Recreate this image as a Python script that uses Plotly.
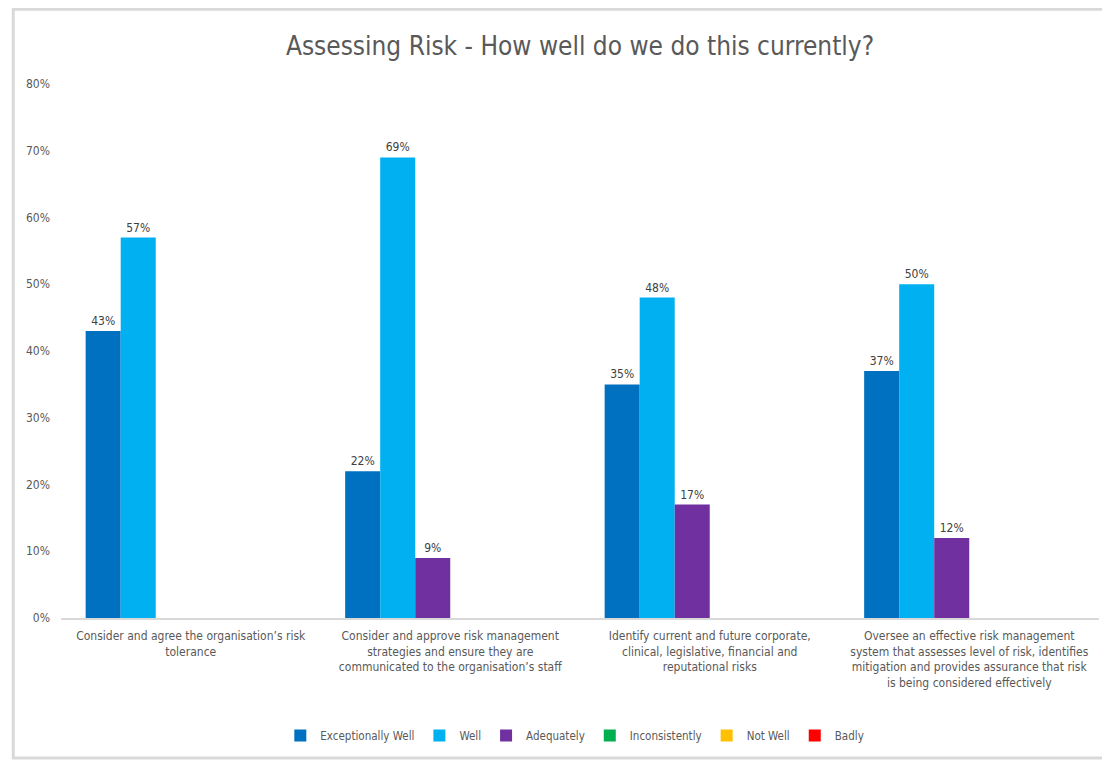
import plotly.graph_objects as go

categories = [
    "Consider and agree the organisation’s risk<br>tolerance",
    "Consider and approve risk management<br>strategies and ensure they are<br>communicated to the organisation’s staff",
    "Identify current and future corporate,<br>clinical, legislative, financial and<br>reputational risks",
    "Oversee an effective risk management<br>system that assesses level of risk, identifies<br>mitigation and provides assurance that risk<br>is being considered effectively",
]
series_names = ["Exceptionally Well", "Well", "Adequately", "Inconsistently", "Not Well", "Badly"]
exceptionally_well = [0.43, 0.22, 0.35, 0.37]
well = [0.57, 0.69, 0.48, 0.50]
adequately = [0.0, 0.09, 0.17, 0.12]
inconsistently = [0.0, 0.0, 0.0, 0.0]
not_well = [0.0, 0.0, 0.0, 0.0]
badly = [0.0, 0.0, 0.0, 0.0]
colors = ["#0070C0", "#00B0F0", "#7030A0", "#00B050", "#FFC000", "#FF0000"]
y_ticks = [0, 0.1, 0.2, 0.3, 0.4, 0.5, 0.6, 0.7, 0.8]

FONT = "DejaVu Sans Condensed, Liberation Sans Narrow, Roboto, sans-serif"

fig = go.Figure()
for name, vals, col in zip(series_names,
                           [exceptionally_well, well, adequately, inconsistently, not_well, badly],
                           colors):
    fig.add_trace(go.Bar(
        name=name, x=categories, y=vals, marker_color=col, marker_line_width=0,
        text=[f"{round(v*100)}%" if v > 0 else "" for v in vals],
        textposition="outside", cliponaxis=False,
        textfont=dict(size=12, color="#404040", family=FONT),
    ))

fig.update_layout(
    width=1110, height=760,
    paper_bgcolor="white", plot_bgcolor="white",
    barmode="group", bargap=0.19, bargroupgap=0,
    margin=dict(l=53, r=19, t=76, b=150, autoexpand=False),
    title=dict(text="Assessing Risk - How well do we do this currently?",
               x=0.5, xref="paper", y=0.95, yanchor="middle", automargin=False,
               font=dict(size=26, color="#595959", family=FONT)),
    font=dict(family=FONT, color="#595959"),
    legend=dict(orientation="h", x=0.495, xanchor="center", y=-0.193, yanchor="top",
                font=dict(size=11.5, color="#595959", family=FONT),
                itemwidth=30, tracegroupgap=0),
    showlegend=True,
)
fig.update_yaxes(range=[0, 0.8], tickvals=y_ticks, tickformat=".0%",
                 showgrid=False, zeroline=False, showline=False, automargin=False,
                 tickfont=dict(size=12, color="#595959", family=FONT), ticklabelstandoff=10)
fig.update_xaxes(showline=True, linecolor="#D9D9D9", linewidth=1.5, automargin=False,
                 tickangle=0, ticklabelstandoff=6,
                 tickfont=dict(size=12, color="#595959", family=FONT), ticks="")

fig.add_shape(type="rect", xref="paper", yref="paper",
              x0=-0.046, x1=1.2, y0=-0.262, y1=1.140,
              line=dict(color="#D9D9D9", width=3), fillcolor="rgba(0,0,0,0)", layer="below")

fig.write_html("out.html")
